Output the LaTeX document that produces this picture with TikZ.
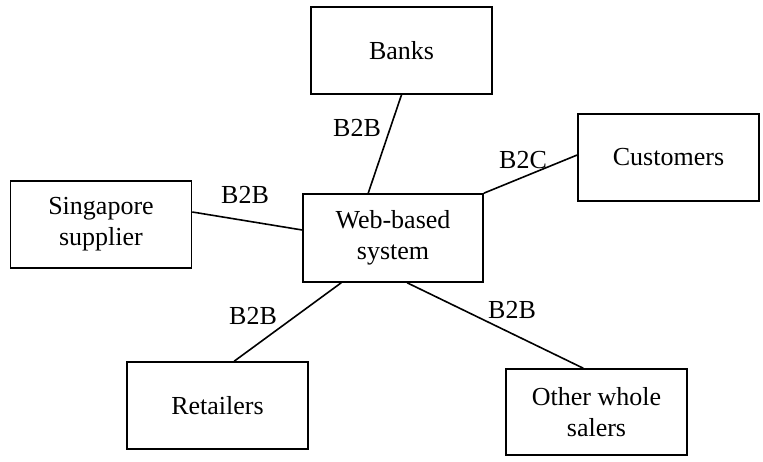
\documentclass[tikz,border=0pt]{standalone}
\usepackage{fontspec}
\setmainfont{Liberation Serif}
\usetikzlibrary{calc}
\begin{document}
\begin{tikzpicture}[x=1pt,y=-1pt,
  box/.style={draw,line width=1.6pt,minimum width=181pt,minimum height=87pt,inner sep=0pt,align=center,font=\fontsize{26}{31}\selectfont},
  lbl/.style={inner sep=0pt,font=\fontsize{26}{31}\selectfont},
  conn/.style={line width=1.6pt}]
\useasboundingbox (0,0) rectangle (763,462);
\node[box] (banks) at (401.5,50.5) {Banks};
\node[box] (cust) at (668.5,157.5) {Customers};
\node[box] (sing) at (101,224.5) {Singapore\\supplier};
\node[box,minimum width=180pt,minimum height=88pt] (web) at (393,238) {Web-based\\system};
\node[box] (ret) at (217.5,405.5) {Retailers};
\node[box,minimum height=86pt] (oth) at (596.5,412) {Other whole\\salers};
\draw[conn] (banks.south) -- ($(web.north west)+(66,0)$);
\draw[conn] (web.north east) -- ($(cust.west)+(0,-2.5)$);
\draw[conn] ($(sing.east)+(0,-12.5)$) -- ($(web.west)+(0,-8)$);
\draw[conn] ($(web.south west)+(39,0)$) -- ($(ret.north west)+(108,0)$);
\draw[conn] ($(web.south west)+(105,0)$) -- ($(oth.north west)+(78,0)$);
\node[lbl] (l1) at (357,128) {B2B};
\node[lbl] (l2) at (523,160) {B2C};
\node[lbl] (l3) at (245,195) {B2B};
\node[lbl] (l4) at (253,316) {B2B};
\node[lbl] (l5) at (512,310) {B2B};
\end{tikzpicture}
\end{document}
